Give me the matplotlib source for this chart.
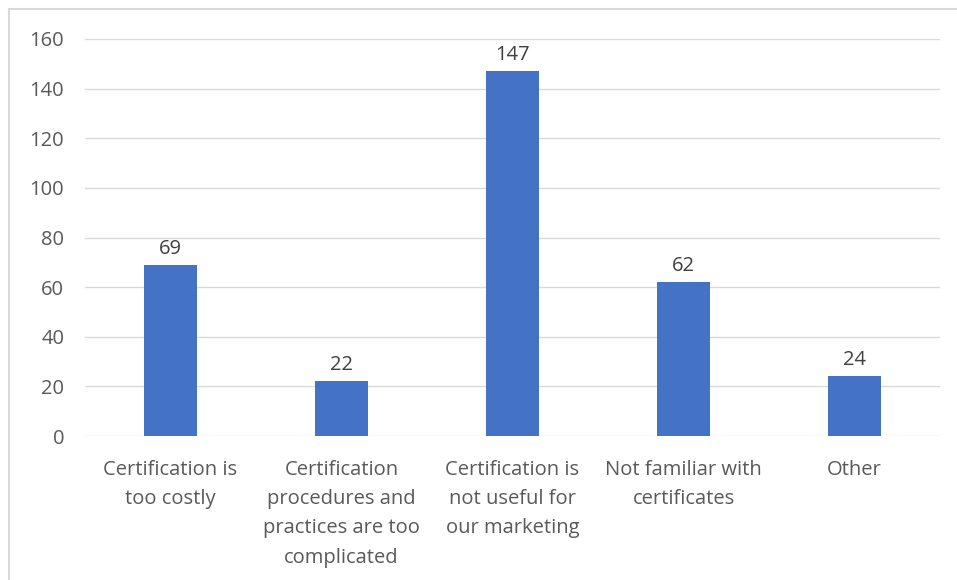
import matplotlib.pyplot as plt
from matplotlib.lines import Line2D

categories = ['Certification is\ntoo costly',
              'Certification\nprocedures and\npractices are too\ncomplicated',
              'Certification is\nnot useful for\nour marketing',
              'Not familiar with\ncertificates',
              'Other']
values = [69, 22, 147, 62, 24]
yticks = [0, 20, 40, 60, 80, 100, 120, 140, 160]

plt.rcParams['font.family'] = ['Open Sans', 'DejaVu Sans']
text_color = '#595959'
fs = 14.5

fig = plt.figure(figsize=(9.57, 5.8), dpi=100)
ax = fig.add_axes([85 / 957, 1 - 436 / 580, 855 / 957, 397 / 580])

x = range(len(values))
bars = ax.bar(x, values, width=0.31, color='#4472c4', zorder=3)
for b, v in zip(bars, values):
    ax.text(b.get_x() + b.get_width() / 2, v + 2.5, str(v), ha='center', va='bottom',
            fontsize=fs, color='#404040')

ax.set_xlim(-0.5, len(values) - 0.5)
ax.set_ylim(0, 160)
ax.set_yticks(yticks)
ax.set_yticklabels([str(t) for t in yticks], fontsize=fs, color=text_color)
ax.set_xticks(list(x))
ax.set_xticklabels(categories, fontsize=fs, color=text_color, linespacing=1.62, va='top')
ax.tick_params(axis='y', length=0, pad=15)
ax.tick_params(axis='x', length=0, pad=17)
ax.yaxis.grid(True, color='#d9d9d9', linewidth=1, zorder=0)
for s in ax.spines.values():
    s.set_visible(False)

# outer chart border (top and left visible)
fig.add_artist(Line2D([9 / 957, 1], [1 - 9 / 580, 1 - 9 / 580], color='#d9d9d9', lw=1.5))
fig.add_artist(Line2D([9 / 957, 9 / 957], [0, 1 - 9 / 580], color='#d9d9d9', lw=1.5))

fig.savefig('out.png', dpi=100)
